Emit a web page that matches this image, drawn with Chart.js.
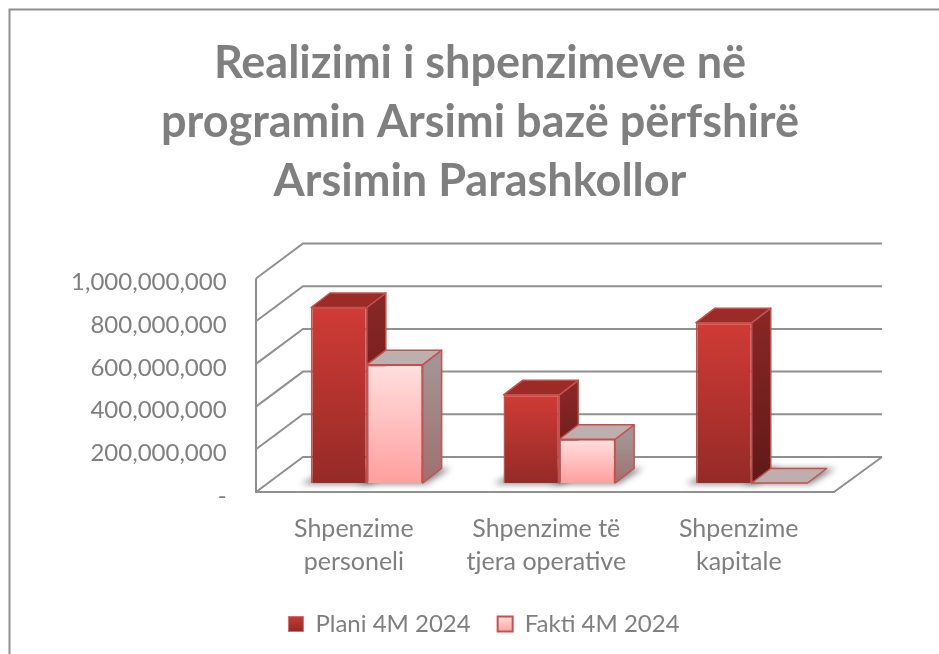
<!DOCTYPE html>
<html>
<head>
<meta charset="utf-8">
<title>Realizimi i shpenzimeve</title>
<script src="https://cdn.jsdelivr.net/npm/chart.js@4"></script>
<style>
	html, body { margin: 0; padding: 0; background: #fff; overflow: hidden; }
	canvas { display: block; }
</style>
</head>
<body>
<canvas id="barChart" width="939" height="654"></canvas>
<script>
var categories = [["Shpenzime", "personeli"], ["Shpenzime të", "tjera operative"], ["Shpenzime", "kapitale"]];
var planiValues = [822000000, 413000000, 751000000];
var faktiValues = [554000000, 205000000, 0];
var tickLabels = ["-", "200,000,000", "400,000,000", "600,000,000", "800,000,000", "1,000,000,000"];
var titleLines = ["Realizimi i shpenzimeve në", "programin Arsimi bazë përfshirë", "Arsimin Parashkollor"];

var textColor = "#7f7f7f";
var gridColor = "#909090";
var edgeColor = "#c4514d";
var fontName = "Lato";

//depth of the fake 3d box, in pixels
var barDx = 19, barDy = -14.5;
var floorFront = 9, wallDx = 47, wallDy = -35;

function gradient(ctx, x0, y0, x1, y1, from, to) {
	var g = ctx.createLinearGradient(x0, y0, x1, y1);
	g.addColorStop(0, from);
	g.addColorStop(1, to);
	return g;
}

function barFill(from, to) {
	return function(context) {
		var chart = context.chart;
		if (!chart.chartArea || context.parsed === undefined) {
			return from;
		}
		var y = chart.scales.y;
		var top = y.getPixelForValue(context.parsed.y);
		var bottom = y.getPixelForValue(0);
		return gradient(chart.ctx, 0, top, 0, Math.max(bottom, top + 1), from, to);
	};
}

function poly(ctx, pts, fill) {
	ctx.beginPath();
	ctx.moveTo(pts[0][0], pts[0][1]);
	for (var i = 1; i < pts.length; i++) {
		ctx.lineTo(pts[i][0], pts[i][1]);
	}
	ctx.closePath();
	ctx.fillStyle = fill;
	ctx.fill();
}

//frame, walls, floor and the depth faces of the bars
var wallsPlugin = {
	id: "walls",
	afterLayout: function(chart) {
		chart.legend.left += 4;
		chart.legend.right += 4;
	},
	beforeDatasetsDraw: function(chart) {
		var ctx = chart.ctx;
		var area = chart.chartArea;
		var y = chart.scales.y;
		var frontLeft = area.left - 14.6;
		var frontRight = area.right - 14;
		var backLeft = frontLeft + wallDx;
		var backRight = frontRight + 48;
		var zero = y.getPixelForValue(0) + floorFront;
		var topVal = y.getPixelForValue(y.max) + floorFront;

		ctx.save();
		ctx.strokeStyle = "#8f8f8f";
		ctx.lineWidth = 2;
		ctx.beginPath();
		ctx.moveTo(9.5, 654);
		ctx.lineTo(9.5, 9.5);
		ctx.lineTo(939, 9.5);
		ctx.stroke();

		ctx.strokeStyle = gridColor;
		ctx.lineWidth = 2;
		ctx.beginPath();
		for (var i = 0; i < y.ticks.length; i++) {
			var p = y.getPixelForValue(y.ticks[i].value) + floorFront;
			ctx.moveTo(frontLeft, p);
			ctx.lineTo(backLeft, p + wallDy);
			ctx.lineTo(backRight, p + wallDy);
		}
		ctx.moveTo(frontLeft, topVal);
		ctx.lineTo(frontLeft, zero);
		ctx.lineTo(frontRight, zero);
		ctx.lineTo(backRight, zero + wallDy);
		ctx.stroke();

		//soft shadow of the bars on the floor
		ctx.filter = "blur(3px)";
		chart.data.datasets.forEach(function(ds, index) {
			chart.getDatasetMeta(index).data.forEach(function(bar) {
				var x0 = bar.x - bar.width / 2;
				var x1 = bar.x + bar.width / 2;
				var b = bar.base;
				poly(ctx, [[x0 - 10, b + 1], [x1 + 3, b + 1], [x1 + barDx + 9, b + barDy], [x0 + barDx, b + barDy]], "rgba(40,40,40,0.55)");
			});
		});
		ctx.filter = "none";

		//plani first so the fakti top sits over its side
		ctx.strokeStyle = edgeColor;
		ctx.lineWidth = 1.5;
		ctx.lineJoin = "round";
		chart.data.datasets.forEach(function(ds, index) {
			chart.getDatasetMeta(index).data.forEach(function(bar) {
				var x0 = bar.x - bar.width / 2;
				var x1 = bar.x + bar.width / 2;
				var t = bar.y;
				var b = bar.base;
				if (b - t > 1) {
					poly(ctx, [[x1, t], [x1 + barDx, t + barDy], [x1 + barDx, b + barDy], [x1, b]], gradient(ctx, 0, t, 0, b, ds.sideFrom, ds.sideTo));
					ctx.stroke();
				}
				poly(ctx, [[x0, t], [x0 + barDx, t + barDy], [x1 + barDx, t + barDy], [x1, t]], ds.topColor);
				ctx.stroke();
			});
		});
		ctx.restore();
	}
};

var ctx = document.getElementById("barChart").getContext("2d");

var barChart = new Chart(ctx, {
	type: "bar",
	data: {
		labels: categories,
		datasets: [
			{
				label: "Plani 4M 2024",
				data: planiValues,
				backgroundColor: barFill("#d03b36", "#952a27"),
				borderColor: edgeColor,
				borderWidth: 1.5,
				topColor: "#9a2b27",
				sideFrom: "#862625",
				sideTo: "#5f1a18"
			},
			{
				label: "Fakti 4M 2024",
				data: faktiValues,
				backgroundColor: barFill("#ffdfdf", "#ff9f9f"),
				borderColor: edgeColor,
				borderWidth: 1.5,
				topColor: "#bfaeae",
				sideFrom: "#a39393",
				sideTo: "#a06f6f"
			}
		]
	},
	options: {
		responsive: false,
		animation: false,
		layout: { padding: { left: 21, right: 0, top: 10, bottom: 8 } },
		datasets: {
			bar: { categoryPercentage: 0.58, barPercentage: 1 }
		},
		scales: {
			x: {
				grid: { display: false, drawTicks: false },
				border: { display: false },
				ticks: {
					color: textColor,
					font: { family: fontName, size: 25, lineHeight: 1.32 },
					padding: 29,
					maxRotation: 0,
					labelOffset: -13
				},
				afterFit: function(scale) { scale.height = 102; }
			},
			y: {
				min: 0,
				max: 1000000000,
				grid: { display: false, drawTicks: false },
				border: { display: false },
				afterFit: function(scale) { scale.width = 249.6; },
				ticks: {
					stepSize: 200000000,
					color: textColor,
					font: { family: fontName, size: 24 },
					padding: 44,
					labelOffset: 13,
					callback: function(value, index) { return tickLabels[index]; }
				}
			},
			//empty axis, only keeps the plot clear of the right edge
			spacer: {
				position: "right",
				grid: { display: false, drawTicks: false },
				border: { display: false },
				ticks: { display: false },
				afterFit: function(scale) { scale.width = 91; }
			}
		},
		plugins: {
			title: {
				display: true,
				text: titleLines,
				color: textColor,
				font: { family: fontName, size: 45, weight: "bold", lineHeight: 1.311 },
				padding: { top: 23.5, bottom: 59 }
			},
			legend: {
				position: "bottom",
				labels: {
					color: textColor,
					font: { family: fontName, size: 24 },
					boxWidth: 15,
					boxHeight: 15,
					padding: 27,
					generateLabels: function(chart) {
						var c = chart.ctx;
						return [
							{ text: "Plani 4M 2024", datasetIndex: 0, fontColor: textColor, lineWidth: 1, strokeStyle: "#d0706c", fillStyle: gradient(c, 0, 615, 0, 630, "#d03b36", "#952a27") },
							{ text: "Fakti 4M 2024", datasetIndex: 1, fontColor: textColor, lineWidth: 2, strokeStyle: edgeColor, fillStyle: gradient(c, 0, 615, 0, 630, "#ffe4e4", "#ffa8a8") }
						];
					}
				}
			},
			tooltip: { enabled: false }
		}
	},
	plugins: [wallsPlugin]
});
</script>
</body>
</html>
